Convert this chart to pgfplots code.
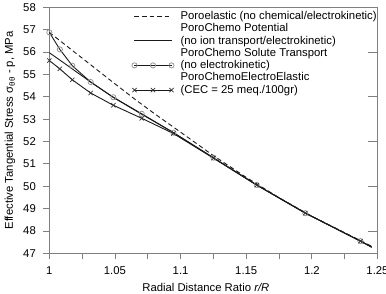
\documentclass[border=0pt]{standalone}
\usepackage{pgfplots}
\pgfplotsset{compat=1.18}
\usepackage{fontspec}
\setmainfont{Liberation Sans}
\newcommand\fsz{\fontsize{11.3bp}{12.7bp}\selectfont}
\definecolor{frame}{HTML}{7F7F7F}
\definecolor{curve}{HTML}{1A1A1A}
\definecolor{circ}{HTML}{8C8C8C}
\definecolor{crs}{HTML}{333333}
\pgfplotsset{
  twoline/.style={legend image code/.code={\draw[mark repeat=2,mark phase=2,##1] plot coordinates {(0bp,-6.3bp) (18.5bp,-6.3bp) (37bp,-6.3bp)};}},
}
\begin{document}
\begin{tikzpicture}[font=\fsz]
\begin{axis}[
  scale only axis, width=328bp, height=246bp,
  xmin=1, xmax=1.25, ymin=47, ymax=58,
  xtick={1,1.05,1.1,1.15,1.2,1.25},
  xticklabels={1,1.05,1.1,1.15,1.2,1.25},
  minor xtick={1.025,1.075,1.125,1.175,1.225},
  ytick={47,48,...,58},
  xtick pos=bottom, ytick pos=left,
  tick align=outside,
  major tick length=6bp, minor tick length=6bp,
  every tick/.style={frame, line width=0.9bp},
  axis line style={frame, line width=1bp},
  tick label style={font=\fsz},
  xticklabel style={yshift=-4bp},
  yticklabel style={xshift=-4bp},
  /pgf/number format/assume math mode=true,
  label style={font=\fsz},
  xlabel={Radial Distance Ratio \textit{r/R}},
  xlabel style={at={(axis description cs:0.477,-0.1553)}, anchor=base},
  ylabel={Effective Tangential Stress σ\textsubscript{θθ} - p, MPa},
  ylabel style={at={(axis description cs:-0.1198,0.5)}, anchor=center},
  legend cell align=left,
  legend style={at={(0.251,0.985)}, anchor=north west, draw=none, fill=none,
    font=\fsz, inner sep=0pt, row sep=2.3bp, column sep=6.5bp,
    nodes={inner sep=0pt}, cells={align=left}},
  legend image code/.code={\draw[mark repeat=2,mark phase=2,#1] plot coordinates {(0bp,0bp) (18.5bp,0bp) (37bp,0bp)};},
]
\addplot[curve, line width=0.9bp, dash pattern=on 4.5bp off 3bp] coordinates {
(1.000,56.88) (1.015,56.19) (1.030,55.50) (1.048,54.67) (1.065,53.90) (1.080,53.25)
(1.100,52.42) (1.125,51.37) (1.150,50.40) (1.175,49.49) (1.200,48.66) (1.225,47.93) (1.2456,47.32)};
\addlegendentry{Poroelastic (no chemical/electrokinetic)}
\addplot[curve, line width=0.9bp, twoline] coordinates {
(1.000,55.97) (1.010,55.56) (1.020,55.14) (1.0315,54.66) (1.0488,53.97) (1.0704,53.22)
(1.0945,52.40) (1.125,51.27) (1.158,50.06) (1.195,48.81) (1.237,47.55) (1.2456,47.28)};
\addlegendentry{PoroChemo Potential\\(no ion transport/electrokinetic)}
\addplot[curve, line width=0.9bp, twoline, mark=o, mark size=2.6bp, mark indices={1,...,11},
  mark options={draw=circ, fill=white, line width=0.7bp}] coordinates {
(1.000,56.88) (1.008,56.12) (1.0175,55.39) (1.0315,54.66) (1.0488,53.98) (1.0704,53.24)
(1.0945,52.40) (1.125,51.28) (1.158,50.06) (1.195,48.80) (1.237,47.55) (1.2456,47.28)};
\addlegendentry{PoroChemo Solute Transport\\(no electrokinetic)}
\addplot[curve, line width=0.9bp, twoline, mark=x, mark size=3bp, mark indices={1,...,11},
  mark options={draw=crs, line width=0.7bp}] coordinates {
(1.000,55.62) (1.008,55.25) (1.0175,54.76) (1.0315,54.17) (1.0488,53.62) (1.0704,53.04)
(1.0945,52.36) (1.125,51.26) (1.158,50.05) (1.195,48.80) (1.237,47.55) (1.2456,47.28)};
\addlegendentry{PoroChemoElectroElastic\\(CEC = 25 meq./100gr)}
\end{axis}
\begin{axis}[
  scale only axis, width=328bp, height=246bp,
  xmin=1, xmax=1.25, ymin=47, ymax=58,
  xtick=\empty, ytick={48,50,...,56}, yticklabels={},
  ytick pos=right, tick align=inside, major tick length=9bp,
  every tick/.style={frame, line width=0.9bp},
  axis line style={draw=none},
]
\end{axis}
\pgfresetboundingbox
\useasboundingbox ([xshift=-49.3bp,yshift=-39.7bp]current axis.south west) rectangle ([xshift=8.5bp,yshift=7.3bp]current axis.north east);
\end{tikzpicture}
\end{document}
